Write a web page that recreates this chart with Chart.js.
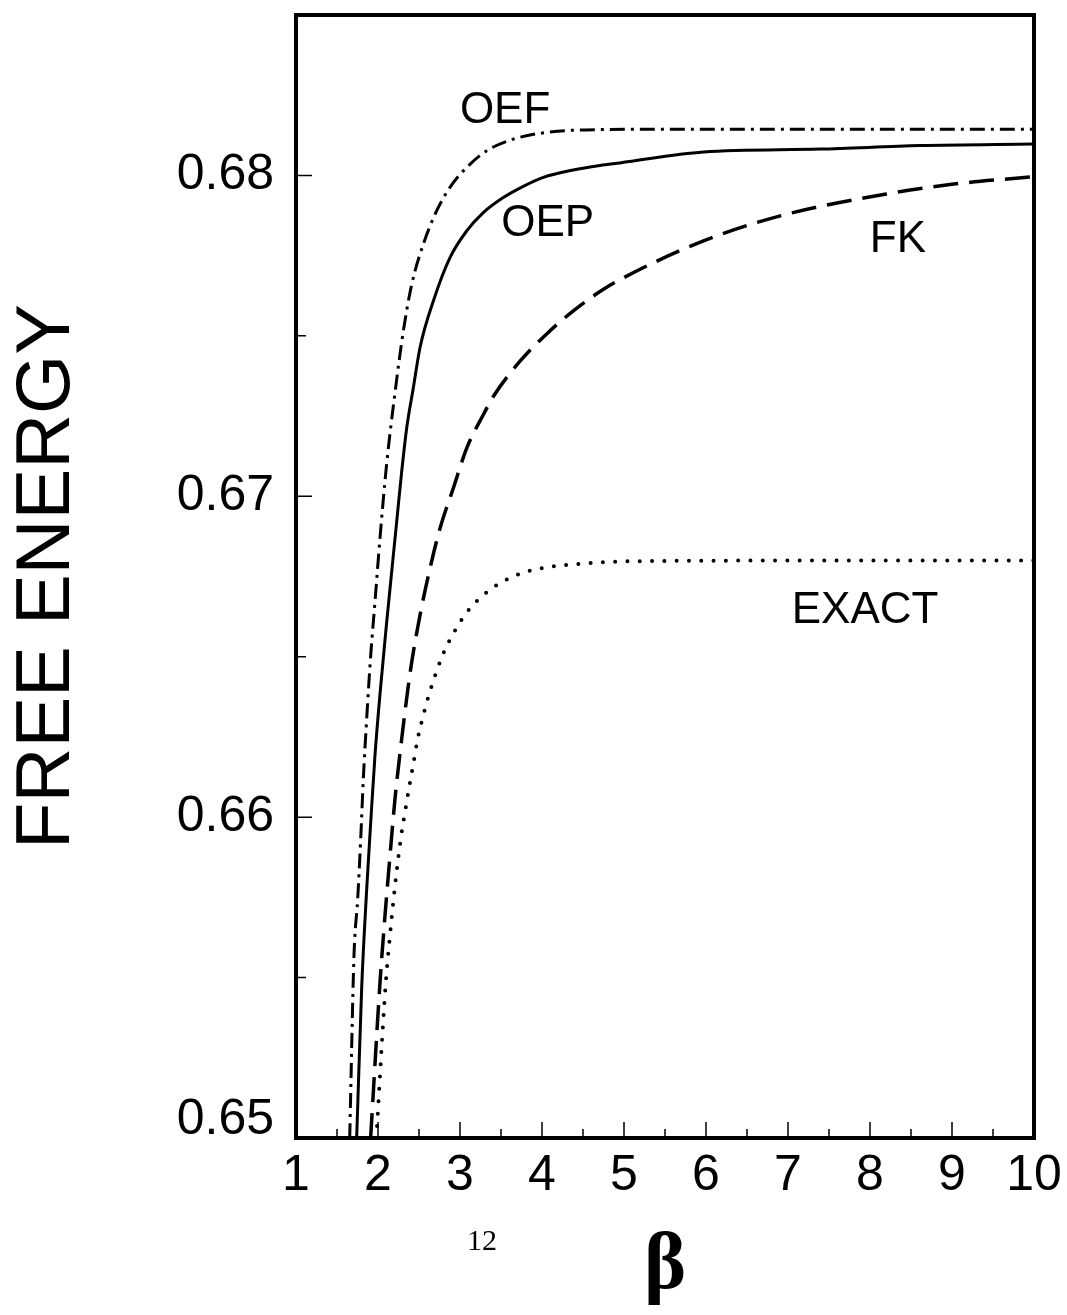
<!DOCTYPE html>
<html><head><meta charset="utf-8">
<script src="https://cdn.jsdelivr.net/npm/chart.js@4/dist/chart.umd.min.js"></script>
<style>html,body{margin:0;padding:0;background:#fff}canvas{display:block}</style>
</head><body>
<canvas id="c" width="1067" height="1315" style="width:1067px;height:1315px"></canvas>
<script>
// ---- data ----
const oefBeta = [1.655,1.707,1.752,1.789,1.821,1.862,1.911,1.963,2.024,2.104,2.207,2.309,2.411,2.552,2.716,2.878,3.082,3.326,3.65,4.057,4.707,5.5,6,7,8,9,10];
const oefF    = [0.6500,0.65567,0.65744,0.65931,0.66119,0.66306,0.66504,0.66671,0.66869,0.67097,0.67322,0.67515,0.6766,0.67785,0.6789,0.67963,0.68025,0.68077,0.68113,0.68134,0.68143,0.68144,0.68144,0.68144,0.68144,0.68144,0.68144];

const oepBeta = [1.74,1.801,1.862,1.911,1.963,2.03,2.106,2.167,2.228,2.289,2.35,2.431,2.512,2.674,2.878,3.082,3.284,3.528,3.772,4.016,4.382,4.707,4.95,5.97,7.39,8.61,10];
const oepF    = [0.6500,0.65468,0.65775,0.65983,0.66192,0.6640,0.66608,0.66765,0.66921,0.67077,0.67213,0.67338,0.67463,0.67608,0.67744,0.67827,0.67884,0.67931,0.67966,0.67994,0.68017,0.68031,0.68039,0.68073,0.68082,0.68093,0.68098];

const fkBeta  = [1.91,2.024,2.085,2.146,2.207,2.289,2.37,2.411,2.512,2.634,2.756,2.918,3.082,3.284,3.406,3.732,4.057,4.382,4.707,4.95,5.97,6.98,8.2,9.02,10];
const fkF     = [0.6500,0.65483,0.65692,0.65879,0.66056,0.66244,0.6641,0.66483,0.66629,0.66775,0.669,0.67025,0.6715,0.67254,0.67311,0.67421,0.67506,0.67578,0.67638,0.67675,0.67796,0.67879,0.67942,0.67973,0.67996];

const exactBeta = [1.98,2.093,2.146,2.207,2.28,2.329,2.378,2.431,2.484,2.552,2.634,2.787,2.918,3.082,3.284,3.528,3.813,4.098,4.402,5,6,7,8,9,10];
const exactF    = [0.6500,0.65478,0.65631,0.65785,0.65937,0.66015,0.6609,0.66166,0.66244,0.66317,0.66392,0.66504,0.66572,0.66638,0.66692,0.66735,0.66765,0.6678,0.66788,0.66797,0.66799,0.6680,0.6680,0.6680,0.6680];

const xTickLabels = [1,2,3,4,5,6,7,8,9,10];
const xMinorTicks = [1.5,2.5,3.5,4.5,5.5,6.5,7.5,8.5,9.5];
const yTickLabels = [0.65,0.66,0.67,0.68];
const yMinorTicks = [0.655,0.665,0.675];

const curveNames = ['OEF','OEP','FK','EXACT'];
const curveLabelBeta = [3.55,4.07,8.34,7.94];
const curveLabelF    = [0.68202,0.6785,0.67798,0.66644];

const xTitle = 'β';
const yTitle = 'FREE ENERGY';
const pageNumber = '12';

// ---- build ----
const pts = (xs, ys) => xs.map((v, i) => ({x: v, y: ys[i]}));
const SANS = '"Liberation Sans", Arial, Helvetica, sans-serif';
const SERIF = '"Liberation Serif", "Times New Roman", serif';

const decor = {
  id: 'decor',
  afterDatasetsDraw(chart) {
    const {ctx, chartArea: a, scales: {x, y}} = chart;
    ctx.save();
    ctx.strokeStyle = '#000';
    ctx.lineWidth = 1.5;
    ctx.beginPath();
    xTickLabels.forEach(v => { const p = x.getPixelForValue(v); ctx.moveTo(p, a.bottom); ctx.lineTo(p, a.bottom - 16); });
    xMinorTicks.forEach(v => { const p = x.getPixelForValue(v); ctx.moveTo(p, a.bottom); ctx.lineTo(p, a.bottom - 9); });
    yTickLabels.forEach(v => { const p = y.getPixelForValue(v); ctx.moveTo(a.left, p); ctx.lineTo(a.left + 16, p); });
    yMinorTicks.forEach(v => { const p = y.getPixelForValue(v); ctx.moveTo(a.left, p); ctx.lineTo(a.left + 10, p); });
    ctx.stroke();
    ctx.lineWidth = 4;
    ctx.strokeRect(a.left, a.top, a.right - a.left, a.bottom - a.top);
    ctx.fillStyle = '#000';
    ctx.font = '44px ' + SANS;
    ctx.textAlign = 'center';
    ctx.textBaseline = 'middle';
    curveNames.forEach((t, i) => ctx.fillText(t, x.getPixelForValue(curveLabelBeta[i]), y.getPixelForValue(curveLabelF[i])));
    ctx.font = '30px ' + SERIF;
    ctx.fillText(pageNumber, 482, 1242);
    ctx.restore();
  }
};

new Chart(document.getElementById('c'), {
  type: 'line',
  data: {
    datasets: [
      {label: 'OEF', data: pts(oefBeta, oefF), borderColor: '#000', borderWidth: 3, borderDash: [15,6,3,6], pointRadius: 0, cubicInterpolationMode: 'monotone'},
      {label: 'OEP', data: pts(oepBeta, oepF), borderColor: '#000', borderWidth: 3, pointRadius: 0, cubicInterpolationMode: 'monotone'},
      {label: 'FK', data: pts(fkBeta, fkF), borderColor: '#000', borderWidth: 3.5, borderDash: [25,11], pointRadius: 0, cubicInterpolationMode: 'monotone'},
      {label: 'EXACT', data: pts(exactBeta, exactF), borderColor: '#000', borderWidth: 4, borderDash: [0,12.3], borderCapStyle: 'round', pointRadius: 0, cubicInterpolationMode: 'monotone'}
    ]
  },
  options: {
    responsive: false,
    devicePixelRatio: 1,
    animation: false,
    events: [],
    layout: {padding: {top: 15, right: 33, left: 0, bottom: 0}},
    plugins: {legend: {display: false}, tooltip: {enabled: false}},
    scales: {
      x: {
        type: 'linear', min: 1, max: 10,
        afterBuildTicks: s => { s.ticks = xTickLabels.map(v => ({value: v})); },
        afterFit: s => { s.height = 177; s.paddingLeft = 0; s.paddingRight = 0; },
        grid: {display: false, drawTicks: false},
        border: {display: false},
        ticks: {autoSkip: false, maxRotation: 0, padding: 8, color: '#000', font: {family: SANS, size: 50}, callback: v => String(v)},
        title: {display: true, text: xTitle, color: '#000', font: {family: SERIF, size: 80, weight: 'bold'}, padding: {top: 0, bottom: 0}}
      },
      y: {
        type: 'linear', min: 0.65, max: 0.685,
        afterBuildTicks: s => { s.ticks = yTickLabels.map(v => ({value: v})); },
        afterFit: s => { s.width = 296; s.paddingTop = 0; s.paddingBottom = 0; },
        grid: {display: false, drawTicks: false},
        border: {display: false},
        ticks: {padding: 22, color: '#000',
          font: c => ({family: SANS, size: 50, lineHeight: (c.tick && Math.abs(c.tick.value - 0.65) < 1e-9) ? 0.72 : 1.2}),
          callback: v => (Math.abs(v - 0.65) < 1e-9 ? ['0.65', ''] : v.toFixed(2))},
        title: {display: true, text: yTitle, color: '#000', font: {family: SANS, size: 76}, padding: {top: 2, bottom: 0}}
      }
    }
  },
  plugins: [decor]
});
</script>
</body></html>
